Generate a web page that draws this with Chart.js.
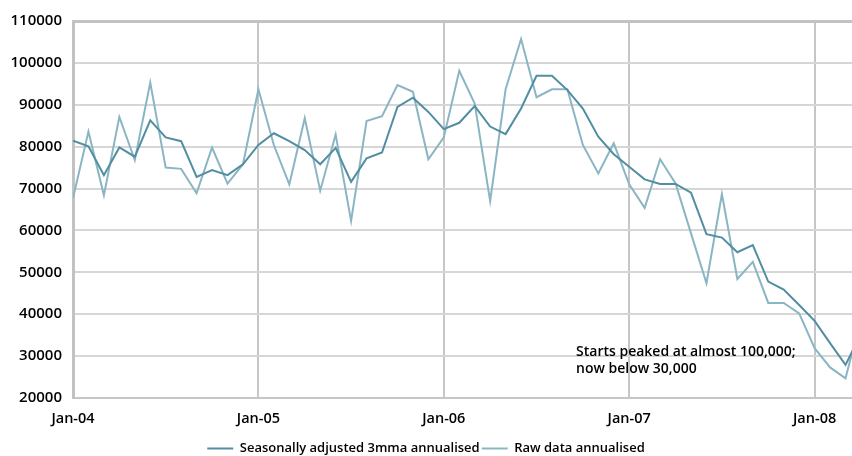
<!DOCTYPE html>
<html>
<head>
<meta charset="utf-8">
<script src="https://cdn.jsdelivr.net/npm/chart.js@4/dist/chart.umd.min.js"></script>
<style>
  html, body { margin: 0; padding: 0; background: #ffffff; }
  #wrap { width: 852px; height: 456px; }
</style>
</head>
<body>
<div id="wrap"><canvas id="c" width="852" height="456"></canvas></div>
<script>
// Monthly US housing starts, Jan-04 to Apr-08 (month index 0 = Jan-04)
const tickLabels = ['Jan-04', 'Jan-05', 'Jan-06', 'Jan-07', 'Jan-08'];
const tickMonths = [0, 12, 24, 36, 48];

const seasonallyAdjusted = [
  81400, 80100, 73200, 79800, 77600, 86300, 82200, 81300, 72800, 74400, 73200, 75800,
  80400, 83200, 81300, 79200, 75800, 79700, 71600, 77200, 78600, 89500, 91700, 88300,
  84200, 85700, 89700, 84800, 83000, 89100, 96900, 96900, 93500, 89100, 82400, 78200,
  75200, 72200, 71100, 71100, 69000, 59100, 58300, 54800, 56500, 47800, 45900, 42200,
  38400, 33100, 27900, 35300
];

const rawData = [
  67700, 83600, 68400, 87100, 76800, 95300, 75000, 74700, 68900, 79800, 71200, 75800,
  93700, 80400, 71000, 86800, 69500, 82900, 62300, 86100, 87300, 94700, 93100, 77000,
  82200, 98100, 90300, 67000, 93700, 105700, 91800, 93700, 93700, 80400, 73600, 80800,
  71000, 65400, 77000, 71200, 59300, 47400, 68700, 48400, 52500, 42700, 42700, 40200,
  31900, 27300, 24700, 38900
];

const noteLines = ['Starts peaked at almost 100,000;', 'now below 30,000'];

const FONT = '"Open Sans", "Noto Sans", sans-serif';
const DARK = '#528ea1';
const LIGHT = '#8ab6c4';

const toPoints = arr => arr.map((v, i) => ({ x: i, y: v }));

const notePlugin = {
  id: 'note',
  afterDatasetsDraw(chart) {
    const { ctx, scales } = chart;
    const x = scales.x.getPixelForValue(32.56);
    const y = scales.y.getPixelForValue(31000);
    ctx.save();
    ctx.fillStyle = '#000000';
    ctx.font = '600 14px ' + FONT;
    ctx.textBaseline = 'middle';
    ctx.textAlign = 'left';
    noteLines.forEach((t, i) => ctx.fillText(t, x, y + i * 17));
    ctx.restore();
  }
};

new Chart(document.getElementById('c'), {
  type: 'line',
  data: {
    datasets: [
      {
        label: 'Seasonally adjusted 3mma annualised',
        data: toPoints(seasonallyAdjusted),
        borderColor: DARK,
        backgroundColor: DARK,
        borderWidth: 2,
        pointRadius: 0,
        tension: 0
      },
      {
        label: 'Raw data annualised',
        data: toPoints(rawData),
        borderColor: LIGHT,
        backgroundColor: LIGHT,
        borderWidth: 2,
        pointRadius: 0,
        tension: 0
      }
    ]
  },
  options: {
    responsive: false,
    animation: false,
    layout: { padding: { top: 21, right: 0, left: 0, bottom: -9 } },
    plugins: {
      tooltip: { enabled: false },
      legend: {
        position: 'bottom',
        labels: {
          boxWidth: 26,
          boxHeight: 2,
          padding: 2,
          color: '#000000',
          font: { family: FONT, size: 13, weight: '600' },
          generateLabels(chart) {
            const items = Chart.defaults.plugins.legend.labels.generateLabels(chart);
            items.forEach(it => { it.lineWidth = 0; });
            return items;
          }
        }
      }
    },
    scales: {
      x: {
        type: 'linear',
        min: 0,
        max: 50.42,
        afterBuildTicks(scale) {
          scale.ticks = tickMonths.map(v => ({ value: v }));
        },
        afterFit(scale) { scale.height = 42; },
        ticks: {
          maxRotation: 0,
          padding: 12,
          color: '#000000',
          font: { family: FONT, size: 14.5, weight: '600' },
          callback: v => tickLabels[tickMonths.indexOf(v)]
        },
        grid: { color: '#c6c6c6', lineWidth: 2, drawTicks: false },
        border: { color: '#c6c6c6', width: 2 }
      },
      y: {
        min: 20000,
        max: 110000,
        afterFit(scale) { scale.width = 73; },
        ticks: {
          stepSize: 10000,
          padding: 11,
          color: '#000000',
          font: { family: FONT, size: 15, weight: '600' },
          callback: v => String(v)
        },
        grid: {
          color: c => (c.tick && c.tick.value === 110000) ? '#c2c2c2' : '#d6d6d6',
          lineWidth: c => (c.tick && c.tick.value === 110000) ? 3 : 2,
          drawTicks: false
        },
        border: { color: '#c2c2c2', width: 3 }
      }
    }
  },
  plugins: [notePlugin]
});
</script>
</body>
</html>
